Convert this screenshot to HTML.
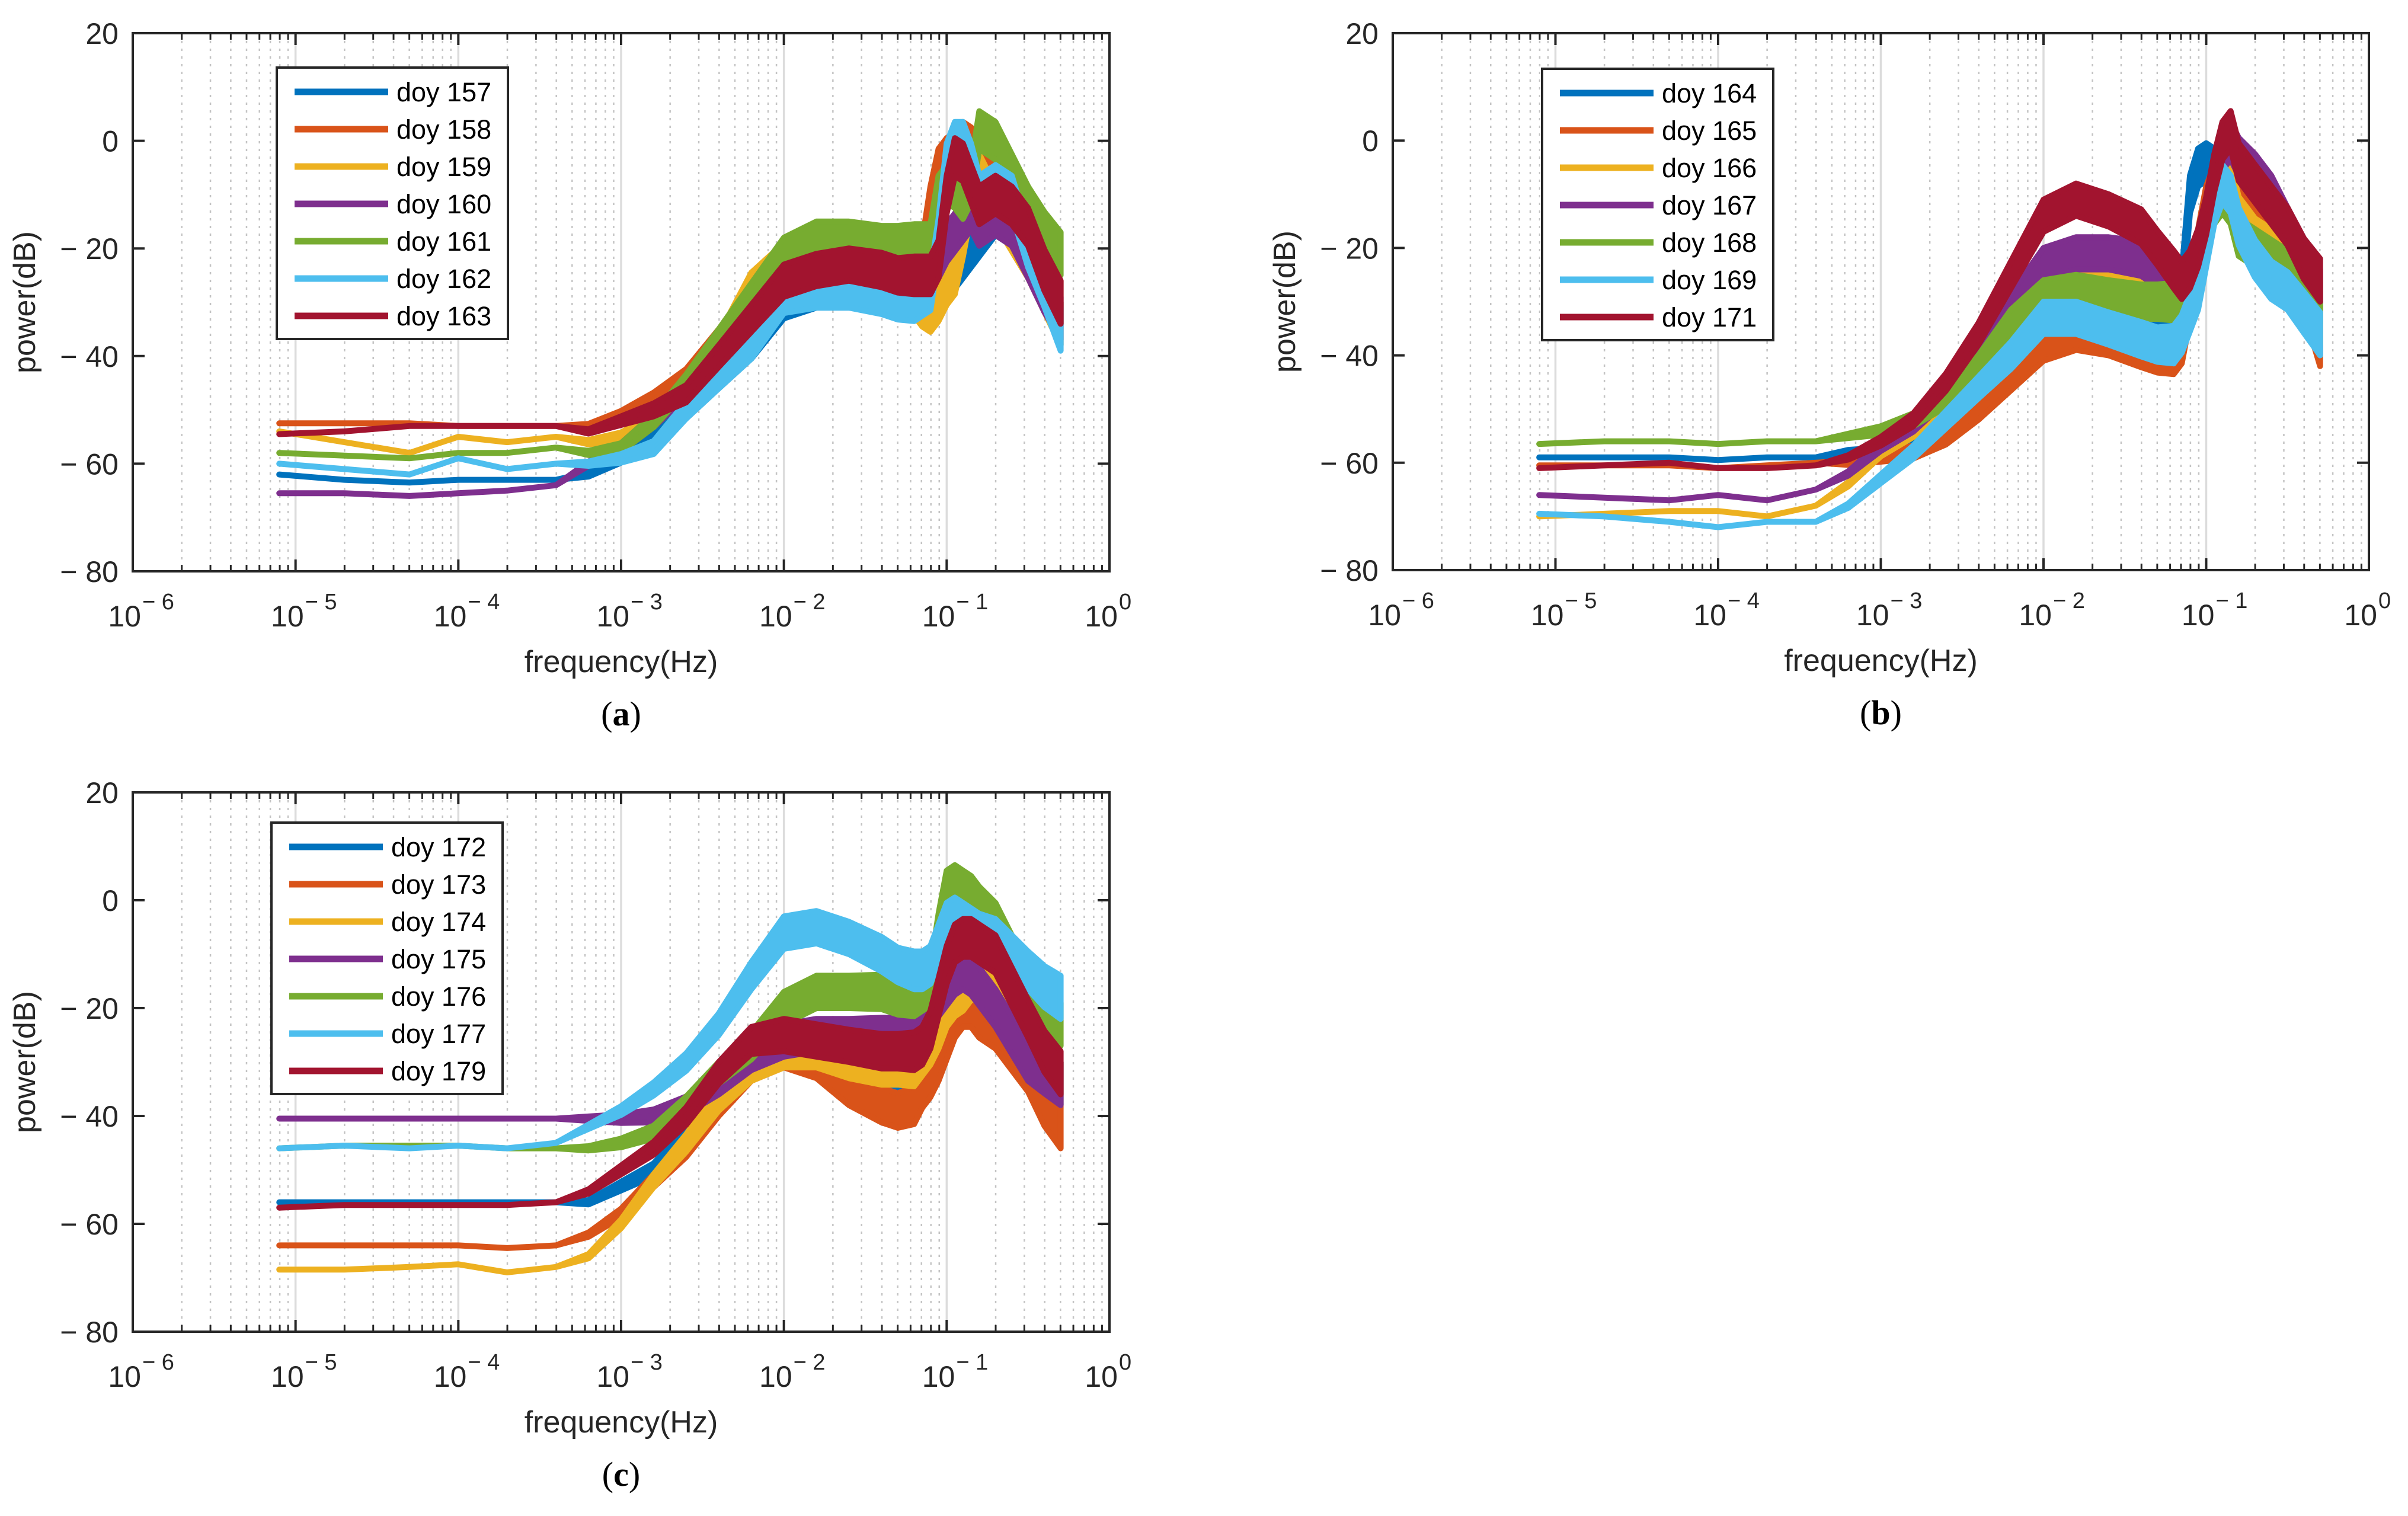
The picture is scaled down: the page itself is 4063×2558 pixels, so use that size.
<!DOCTYPE html>
<html><head><meta charset="utf-8">
<style>
html,body{margin:0;padding:0;background:#fff;}
svg{display:block;font-family:"Liberation Sans",Arial,sans-serif;}
</style></head>
<body>
<svg id="fig" xmlns="http://www.w3.org/2000/svg" width="4063" height="2558" viewBox="0 0 4063 2558"></svg>
<script>
// ---- shared frequency grid (log10 Hz) ----
const logFreq = [-5.1,-4.7,-4.3,-4.0,-3.7,-3.4,-3.2,-3.0,-2.8,-2.6,-2.4,-2.2,-2.0,-1.8,-1.6,-1.4,-1.3,-1.2,-1.15,-1.1,-1.05,-1.0,-0.95,-0.9,-0.85,-0.8,-0.7,-0.6,-0.5,-0.4,-0.3];
const noiseHalfWidthDb = [0,0,0,0,0,0,0.4,0.8,1.2,1.6,2,2.5,3,3,3,3.2,3.2,3.5,3.5,3.5,3.5,3.5,3.5,3.5,3.5,3.5,3.5,3.5,3.5,3.8,4];
const yTicks = [20,0,-20,-40,-60,-80];
const yTickLabels = ["20","0","\u2212 20","\u2212 40","\u2212 60","\u2212 80"];
const xDecades = [-6,-5,-4,-3,-2,-1,0];
const seriesColors = ["#0072bd","#d95319","#edb120","#7e2f8e","#77ac30","#4dbeee","#a2142f"];

// ---- panel (a) ----
const labelsA = ["doy 157","doy 158","doy 159","doy 160","doy 161","doy 162","doy 163"];
const doy157 = [-62,-63,-63.5,-63,-63,-63,-62,-59,-55,-50,-44,-38,-30,-28,-28,-28,-28,-27,-27,-27,-26,-25,-24,-22,-20,-18,-14,-16,-20,-27,-34];
const doy158 = [-52.5,-52.5,-52.5,-53,-53,-53,-53,-51,-48,-44,-37,-30,-25,-23,-23,-23,-23,-23,-22,-12,-5,-3,-2,0,-1,-3,-8,-14,-20,-25,-30];
const doy159 = [-54,-56,-58,-55,-56,-55,-56,-55,-52,-46,-38,-27,-22,-24,-26,-27,-28,-29,-31,-32,-30,-27,-25,-18,-10,-6,-12,-17,-22,-28,-34];
const doy160 = [-65.5,-65.5,-66,-65.5,-65,-64,-60,-57,-52,-46,-40,-32,-28,-26,-26,-26,-26,-26,-26,-24,-22,-19,-17,-15,-13,-16,-14,-16,-22,-28,-33];
const doy161 = [-58,-58.5,-59,-58,-58,-57,-58,-57,-52,-45,-37,-29,-21,-18,-18,-19,-19,-19,-19,-19,-10,-8,-9,-11,-8,2,0,-6,-12,-17,-21];
const doy162 = [-60,-61,-62,-59,-61,-60,-60,-59,-57,-50,-44,-38,-29,-28,-28,-29,-30,-30,-29,-28,-18,-4,0,0,-4,-10,-8,-10,-20,-27,-35];
const doy163 = [-54.5,-54,-53,-53,-53,-53,-54,-52,-50,-47,-40,-33,-26,-24,-23,-24,-25,-25,-25,-25,-22,-10,-3,-4,-8,-12,-10,-12,-16,-24,-30];

// ---- panel (b) ----
const labelsB = ["doy 164","doy 165","doy 166","doy 167","doy 168","doy 169","doy 171"];
const doy164 = [-59,-59,-59,-59.5,-59,-59,-58,-58,-55,-50,-44,-38,-33,-32,-34,-35,-35,-34,-28,-10,-5,-4,-5,-8,-12,-14,-18,-20,-25,-30,-36];
const doy165 = [-60.5,-60.5,-60.5,-61,-60.5,-60,-60,-59,-58,-55,-50,-44,-38,-36,-37,-39,-40,-40,-38,-30,-20,-12,-8,-3,-5,-10,-16,-20,-24,-28,-38];
const doy166 = [-70,-69.5,-69,-69,-70,-68,-64,-58,-54,-48,-40,-33,-27,-25,-27,-28,-29,-30,-29,-26,-22,-16,-10,-4,-8,-14,-18,-20,-24,-28,-34];
const doy167 = [-66,-66.5,-67,-66,-67,-65,-62,-57,-53,-47,-40,-31,-23,-21,-21,-22,-24,-26,-27,-26,-22,-14,-6,-2,0,-3,-6,-10,-16,-22,-28];
const doy168 = [-56.5,-56,-56,-56.5,-56,-56,-55,-54,-52,-48,-42,-34,-29,-28,-29,-30,-30,-30,-30,-28,-24,-18,-12,-10,-12,-18,-20,-22,-24,-27,-30];
const doy169 = [-69.5,-70,-71,-72,-71,-71,-68,-63,-58,-52,-46,-40,-33,-33,-35,-37,-38,-38,-36,-32,-28,-20,-12,-8,-10,-16,-22,-26,-28,-32,-36];
const doy171 = [-61,-60.5,-60,-61,-61,-60.5,-59,-56,-52,-45,-36,-25,-14,-11,-13,-16,-20,-24,-26,-24,-20,-14,-6,0,2,-4,-8,-12,-16,-22,-26];

// ---- panel (c) ----
const labelsC = ["doy 172","doy 173","doy 174","doy 175","doy 176","doy 177","doy 179"];
const doy172 = [-56,-56,-56,-56,-56,-56,-56,-53,-50,-44,-36,-30,-27,-29,-32,-33,-33,-31,-29,-26,-22,-18,-17,-16,-15,-16,-20,-24,-28,-32,-34];
const doy173 = [-64,-64,-64,-64,-64.5,-64,-62,-58,-52,-46,-38,-31,-28,-30,-35,-38,-39,-38,-35,-33,-30,-26,-22,-20,-20,-22,-24,-28,-32,-38,-42];
const doy174 = [-68.5,-68.5,-68,-67.5,-69,-68,-66,-60,-52,-45,-37,-31,-28,-28,-30,-31,-31,-31,-29,-27,-24,-20,-18,-17,-15,-15,-17,-22,-26,-30,-34];
const doy175 = [-40.5,-40.5,-40.5,-40.5,-40.5,-40.5,-40.5,-40.5,-40,-38,-34,-29,-26,-25,-25,-25,-25,-24,-23,-20,-18,-16,-14,-13,-14,-16,-20,-25,-30,-32,-34];
const doy176 = [-46,-45.5,-45.5,-45.5,-46,-46,-46,-45,-43,-38,-32,-27,-20,-17,-17,-17,-18,-18,-17,-16,-6,2,3,2,1,-1,-4,-10,-16,-20,-23];
const doy177 = [-46,-45.5,-46,-45.5,-46,-45,-42,-39,-35,-30,-23,-14,-6,-5,-7,-10,-12,-13,-13,-12,-8,-4,-3,-4,-5,-6,-7,-10,-13,-16,-18];
const doy179 = [-57,-56.5,-56.5,-56.5,-56.5,-56,-54,-50,-46,-40,-32,-26,-25,-26,-27,-28,-28,-28,-27,-24,-18,-12,-8,-7,-7,-8,-10,-16,-22,-28,-32];

const NS = "http://www.w3.org/2000/svg";
const svg = document.getElementById('fig');
function mk(tag, attrs, parent){
  const e = document.createElementNS(NS, tag);
  for (const k in attrs) e.setAttribute(k, attrs[k]);
  (parent||svg).appendChild(e);
  return e;
}

function drawPanel(P, seriesList, labels, tag){
  const g = mk('g', {});
  
  
  const W = P.right - P.left, H = P.bottom - P.top;
  const xs = lf => P.left + (lf + 6) / 6 * W;
  const ys = v => P.top + (20 - v) / 100 * H;

  const grid = mk('g', {}, g);
  
  
  for (let d = -6; d < 0; d++) {
    for (let m = 2; m <= 9; m++) {
      const x = xs(d + Math.log10(m));
      mk('line', {x1:x, y1:P.top, x2:x, y2:P.bottom, stroke:'#c4c4c4', 'stroke-width':2.5, 'stroke-dasharray':'4 9'}, grid);
    }
  }
  for (const d of xDecades) {
    if (d === -6 || d === 0) continue;
    const x = xs(d);
    mk('line', {x1:x, y1:P.top, x2:x, y2:P.bottom, stroke:'#dcdcdc', 'stroke-width':3.5}, grid);
  }

  const sg = mk('g', {}, g);
  
  
  seriesList.forEach((vals, i) => {
    let up = [], dn = [];
    for (let k = 0; k < logFreq.length; k++) {
      up.push(xs(logFreq[k]).toFixed(1) + ',' + ys(vals[k] + noiseHalfWidthDb[k]).toFixed(1));
      dn.push(xs(logFreq[k]).toFixed(1) + ',' + ys(vals[k] - noiseHalfWidthDb[k]).toFixed(1));
    }
    const poly = mk('polygon', {points: up.concat(dn.reverse()).join(' '), fill: seriesColors[i], stroke: seriesColors[i], 'stroke-width': 10, 'stroke-linejoin':'round'}, sg);
    
    
  });

  const fr = mk('rect', {x:P.left, y:P.top, width:W, height:H, fill:'none', stroke:'#262626', 'stroke-width':4}, g);
  
  

  for (let d = -6; d <= 0; d++) {
    const x = xs(d);
    mk('line', {x1:x, y1:P.bottom, x2:x, y2:P.bottom-20, stroke:'#262626', 'stroke-width':4}, g);
    mk('line', {x1:x, y1:P.top, x2:x, y2:P.top+20, stroke:'#262626', 'stroke-width':4}, g);
    if (d < 0) for (let m = 2; m <= 9; m++) {
      const xm = xs(d + Math.log10(m));
      mk('line', {x1:xm, y1:P.bottom, x2:xm, y2:P.bottom-11, stroke:'#262626', 'stroke-width':3}, g);
      mk('line', {x1:xm, y1:P.top, x2:xm, y2:P.top+11, stroke:'#262626', 'stroke-width':3}, g);
    }
  }
  xDecades.forEach(d => {
    const t = mk('text', {x: xs(d) + 14, y: P.bottom + 93, 'font-size': 50, fill:'#262626', 'text-anchor':'end'}, g);
    
    
    t.textContent = '10';
    const s = mk('text', {x: xs(d) + 16, y: P.bottom + 64, 'font-size': 38, fill:'#262626'}, g);
    
    
    s.textContent = d === 0 ? '0' : '\u2212 ' + (-d);
  });
  yTicks.forEach((v, i) => {
    const y = ys(v);
    mk('line', {x1:P.left, y1:y, x2:P.left+20, y2:y, stroke:'#262626', 'stroke-width':4}, g);
    mk('line', {x1:P.right, y1:y, x2:P.right-20, y2:y, stroke:'#262626', 'stroke-width':4}, g);
    const t = mk('text', {x: P.left - 24, y: y + 18, 'font-size': 50, fill:'#262626', 'text-anchor':'end'}, g);
    
    
    t.textContent = yTickLabels[i];
  });
  const xt = mk('text', {x: (P.left+P.right)/2, y: P.bottom + 170, 'font-size': 52, fill:'#262626', 'text-anchor':'middle'}, g);
  
  
  xt.textContent = 'frequency(Hz)';
  const cy = (P.top + P.bottom) / 2;
  const yt = mk('text', {x: P.left - 165, y: cy, 'font-size': 52, fill:'#262626', 'text-anchor':'middle', transform:'rotate(-90 ' + (P.left-165) + ' ' + cy + ')'}, g);
  
  
  yt.textContent = 'power(dB)';
  const cap = mk('text', {x: (P.left+P.right)/2, y: P.bottom + 260, 'font-size': 58, fill:'#000', 'text-anchor':'middle', 'font-family':'"Liberation Serif", serif'}, g);
  
  
  cap.innerHTML = '(<tspan font-weight="bold">' + tag + '</tspan>)';

  const lg = mk('g', {}, g);
  
  
  const lx = P.left + P.legDx, ly = P.top + P.legDy;
  mk('rect', {x: lx, y: ly, width: 390, height: 458, fill:'#fff', stroke:'#262626', 'stroke-width':4}, lg);
  labels.forEach((lab, i) => {
    const y = ly + 41 + i * 63;
    const e = mk('g', {}, lg);
    
    
    mk('line', {x1: lx + 30, y1: y, x2: lx + 188, y2: y, stroke: seriesColors[i], 'stroke-width': 11}, e);
    const t = mk('text', {x: lx + 202, y: y + 16, 'font-size': 45, fill:'#000'}, e);
    t.textContent = lab;
  });
}

drawPanel({left:224, right:1872, top:56, bottom:964, legDx:243, legDy:58},
  [doy157, doy158, doy159, doy160, doy161, doy162, doy163], labelsA, 'a');
drawPanel({left:2350, right:3997, top:56, bottom:962, legDx:252, legDy:60},
  [doy164, doy165, doy166, doy167, doy168, doy169, doy171], labelsB, 'b');
drawPanel({left:224, right:1872, top:1337, bottom:2247, legDx:234, legDy:51},
  [doy172, doy173, doy174, doy175, doy176, doy177, doy179], labelsC, 'c');
</script>
</body></html>
